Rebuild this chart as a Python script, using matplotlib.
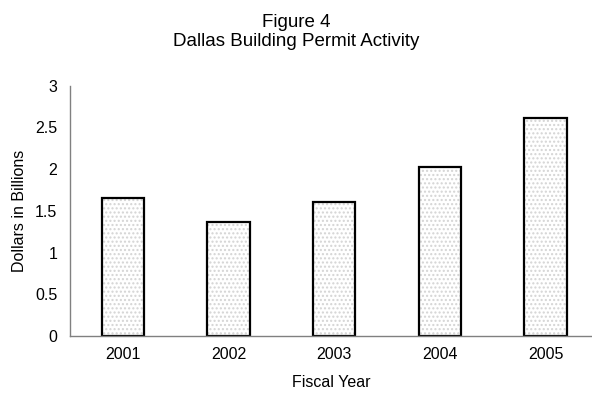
import matplotlib
matplotlib.use("Agg")
import matplotlib.pyplot as plt

years = ["2001", "2002", "2003", "2004", "2005"]
permits_billion = [1.65, 1.37, 1.61, 2.03, 2.61]
y_ticks = [0, 0.5, 1, 1.5, 2, 2.5, 3]
y_tick_labels = ["0", "0.5", "1", "1.5", "2", "2.5", "3"]

plt.rcParams["font.family"] = ["Liberation Sans", "DejaVu Sans"]

fig = plt.figure(figsize=(5.92, 3.96), dpi=100)
ax = fig.add_axes([0.118, 0.1515, 0.882, 0.632])

x = list(range(len(years)))
# dotted fill layer
ax.bar(x, permits_billion, width=0.4, color="white", edgecolor="#d4d4d4",
       hatch="....", linewidth=0, zorder=2)
# outline layer
ax.bar(x, permits_billion, width=0.4, fill=False, edgecolor="black",
       linewidth=1.6, zorder=3)

ax.set_xlim(-0.5, 4.44)
ax.set_ylim(0, 3)
ax.set_xticks(x)
ax.set_xticklabels(years, fontsize=11.5)
ax.set_yticks(y_ticks)
ax.set_yticklabels(y_tick_labels, fontsize=11.5)
ax.tick_params(axis="x", length=0, pad=8)
ax.tick_params(axis="y", length=0, pad=9)

for side in ("top", "right"):
    ax.spines[side].set_visible(False)
for side in ("left", "bottom"):
    ax.spines[side].set_color("#808080")
    ax.spines[side].set_linewidth(1.0)
ax.spines["bottom"].set_zorder(4)

ax.set_xlabel("Fiscal Year", fontsize=11.5, labelpad=9)
ax.set_ylabel("Dollars in Billions", fontsize=11.5, labelpad=6)

fig.text(0.5, 0.965, "Figure 4\nDallas Building Permit Activity",
         ha="center", va="top", fontsize=13.5, linespacing=1.15)

fig.savefig("out.png", dpi=100)
